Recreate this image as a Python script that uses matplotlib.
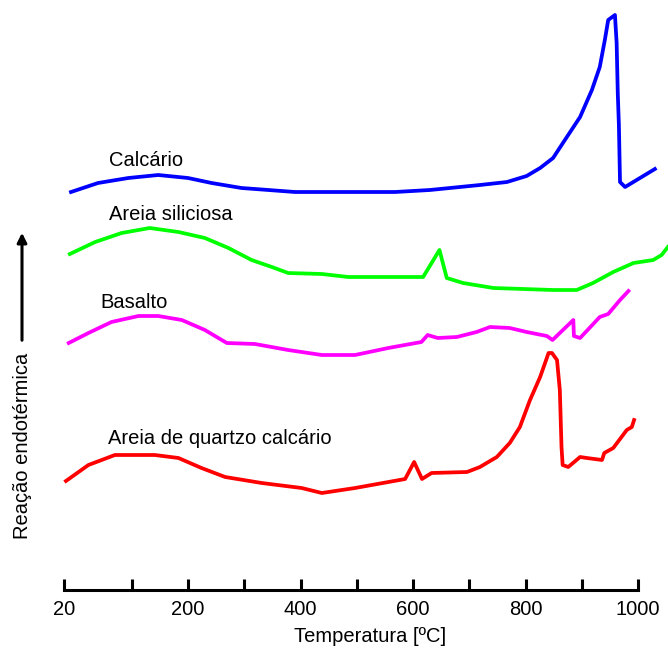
import matplotlib
matplotlib.use("Agg")
import matplotlib.pyplot as plt

plt.rcParams['font.family'] = ['Liberation Sans', 'DejaVu Sans']

# DTA curves: temperature (ºC) and relative signal (arbitrary units, stacked)
calcario_t = [-8, 40, 94, 147, 200, 242, 295, 343, 390, 568, 630, 719, 767, 802,
              826, 849, 870, 897, 918, 932, 941, 947, 959, 962, 964, 966, 968, 977, 1030]
calcario_y = [39.8, 40.7, 41.2, 41.5, 41.2, 40.7, 40.2, 40.0, 39.8, 39.8, 40.0, 40.5, 40.8, 41.4,
              42.2, 43.2, 45.0, 47.3, 50.0, 52.3, 55.0, 57.0, 57.5, 54.7, 49.7, 46.5, 40.8, 40.3, 42.1]

silic_t = [-10, 35, 82, 132, 183, 230, 272, 313, 349, 378, 438, 485, 541, 618,
           647, 660, 689, 743, 849, 891, 920, 956, 992, 1027, 1042, 1053]
silic_y = [33.6, 34.8, 35.7, 36.2, 35.8, 35.2, 34.2, 33.0, 32.3, 31.7, 31.6, 31.3, 31.3, 31.3,
           34.0, 31.2, 30.7, 30.2, 30.0, 30.0, 30.7, 31.8, 32.7, 33.0, 33.5, 34.3]

basalto_t = [-12, 23, 64, 112, 147, 189, 230, 269, 319, 378, 438, 497, 556, 615, 626,
             644, 678, 713, 737, 772, 802, 838, 848, 885, 886, 897, 932, 947, 968, 983]
basalto_y = [24.7, 25.7, 26.8, 27.4, 27.4, 27.0, 26.0, 24.7, 24.6, 24.0, 23.5, 23.5, 24.2, 24.8, 25.5,
             25.2, 25.3, 25.8, 26.3, 26.2, 25.8, 25.4, 25.0, 27.0, 25.4, 25.2, 27.3, 27.6, 29.0, 29.9]

quartzo_t = [-17, 23, 70, 141, 183, 224, 266, 331, 402, 438, 497, 586, 602, 616, 633,
             696, 719, 749, 772, 790, 808, 826, 841, 847, 856, 861, 864, 866, 876,
             897, 909, 936, 940, 956, 980, 989, 993]
quartzo_y = [10.9, 12.5, 13.5, 13.5, 13.2, 12.2, 11.3, 10.7, 10.2, 9.7, 10.2, 11.1, 12.8, 11.1, 11.7,
             11.8, 12.3, 13.3, 14.7, 16.3, 19.0, 21.3, 23.7, 23.7, 23.0, 20.0, 14.3, 12.5, 12.3,
             13.3, 13.2, 13.0, 13.7, 14.2, 16.0, 16.3, 17.0]

tick_labels = ['20', '200', '400', '600', '800', '1000']
tick_pos = [-20, 200, 400, 600, 800, 1000]
minor_pos = [100, 300, 500, 700, 900]

fig = plt.figure(figsize=(6.68, 6.53), dpi=100)
ax = fig.add_axes([0, 0, 1, 1])
ax.set_xlim(-134.2, 1053.3)
ax.set_ylim(-6.3, 59.0)

lw = 2.7
ax.plot(calcario_t, calcario_y, color='#0000ff', lw=lw)
ax.plot(silic_t, silic_y, color='#00ff00', lw=lw)
ax.plot(basalto_t, basalto_y, color='#ff00ff', lw=lw)
ax.plot(quartzo_t, quartzo_y, color='#ff0000', lw=lw)

fs = 14.5
ax.text(59.6, 43.0, 'Calcário', fontsize=fs, ha='left', va='center')
ax.text(59.6, 37.5, 'Areia siliciosa', fontsize=fs, ha='left', va='center')
ax.text(44.8, 28.8, 'Basalto', fontsize=fs, ha='left', va='center')
ax.text(58.3, 15.2, 'Areia de quartzo calcário', fontsize=fs, ha='left', va='center')

# bottom axis only, with inward ticks
for side in ['left', 'top', 'right']:
    ax.spines[side].set_visible(False)
ax.spines['bottom'].set_position(('data', 0))
ax.spines['bottom'].set_bounds(-20, 1000)
ax.spines['bottom'].set_linewidth(2.2)
ax.set_xticks(tick_pos)
ax.set_xticklabels(tick_labels, fontsize=fs)
ax.set_xticks(minor_pos, minor=True)
ax.tick_params(axis='x', which='both', direction='in', length=8, width=2.2, pad=7)
ax.set_yticks([])

fig.text(370 / 668, 1 - 637 / 653, 'Temperatura [ºC]', fontsize=fs, ha='center', va='center')
fig.text(23 / 668, 1 - 446 / 653, 'Reação endotérmica', fontsize=fs, rotation=90,
         ha='center', va='center')
ax.annotate('', xy=(22 / 668, 1 - 230 / 653), xytext=(22 / 668, 1 - 343 / 653),
            xycoords='figure fraction', textcoords='figure fraction',
            arrowprops=dict(arrowstyle='-|>', color='black', lw=2.2, mutation_scale=14))

fig.savefig('out.png', dpi=100)
